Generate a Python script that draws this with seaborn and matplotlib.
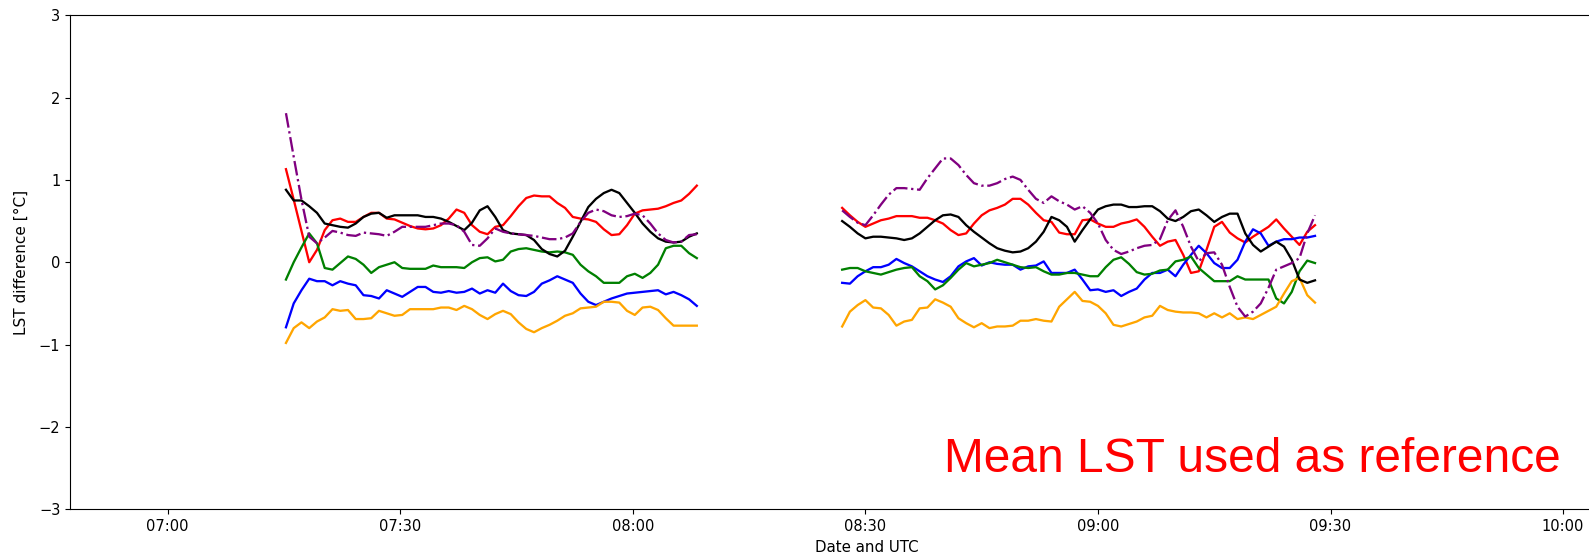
"""
LST difference time series, mean LST used as reference
"""
import pandas as pd
import numpy as np
import matplotlib
matplotlib.use('Agg')
import matplotlib.pyplot as plt
import matplotlib.dates as mdates
import seaborn as sns

# time axis of the two flight segments (1 minute steps)
seg1_start = '2023-06-15 07:15:15'
seg2_start = '2023-06-15 08:27:00'
seg1_len = 54
seg2_len = 62

# segment 1 values
red_1 = [1.13, 0.76, 0.38, 0.00, 0.15, 0.39, 0.51, 0.53, 0.49, 0.49, 0.55, 0.60, 0.60, 0.53, 0.52, 0.48, 0.44, 0.41, 0.40,
         0.41, 0.45, 0.53, 0.64, 0.60, 0.45, 0.37, 0.34, 0.43, 0.45, 0.56, 0.68, 0.78, 0.81, 0.80, 0.80, 0.72, 0.66,
         0.55, 0.53, 0.52, 0.49, 0.40, 0.33, 0.34, 0.45, 0.59, 0.63, 0.64, 0.65, 0.68, 0.72, 0.75, 0.83, 0.93]
black_1 = [0.88, 0.75, 0.75, 0.68, 0.60, 0.47, 0.45, 0.43, 0.42, 0.47, 0.55, 0.59, 0.60, 0.54, 0.57, 0.57, 0.57, 0.57, 0.55,
           0.55, 0.53, 0.49, 0.44, 0.39, 0.48, 0.63, 0.68, 0.55, 0.39, 0.35, 0.34, 0.33, 0.27, 0.16, 0.10, 0.07, 0.14,
           0.31, 0.49, 0.67, 0.77, 0.84, 0.88, 0.84, 0.72, 0.60, 0.47, 0.37, 0.29, 0.25, 0.24, 0.25, 0.31, 0.35]
purple_1 = [1.81, 1.28, 0.76, 0.31, 0.23, 0.30, 0.38, 0.36, 0.33, 0.32, 0.36, 0.35, 0.34, 0.32, 0.37, 0.43, 0.43, 0.43, 0.43,
            0.45, 0.47, 0.47, 0.45, 0.37, 0.21, 0.20, 0.29, 0.41, 0.37, 0.35, 0.34, 0.33, 0.32, 0.30, 0.28, 0.28, 0.30,
            0.35, 0.49, 0.60, 0.64, 0.62, 0.57, 0.55, 0.56, 0.59, 0.57, 0.47, 0.35, 0.27, 0.24, 0.25, 0.33, 0.34]
green_1 = [-0.21, 0.00, 0.18, 0.35, 0.23, -0.07, -0.09, -0.01, 0.07, 0.04, -0.03, -0.13, -0.06, -0.03, 0.00, -0.07, -0.08, -0.08, -0.08,
           -0.04, -0.06, -0.06, -0.06, -0.07, 0.00, 0.05, 0.06, 0.01, 0.03, 0.13, 0.16, 0.17, 0.15, 0.13, 0.12, 0.13, 0.12,
           0.09, -0.03, -0.11, -0.17, -0.25, -0.25, -0.25, -0.17, -0.14, -0.19, -0.13, -0.03, 0.17, 0.20, 0.20, 0.11, 0.05]
blue_1 = [-0.79, -0.50, -0.34, -0.20, -0.23, -0.23, -0.28, -0.23, -0.26, -0.28, -0.40, -0.41, -0.44, -0.34, -0.38, -0.42, -0.36, -0.30, -0.30,
          -0.36, -0.37, -0.35, -0.37, -0.36, -0.32, -0.38, -0.34, -0.37, -0.26, -0.35, -0.40, -0.41, -0.36, -0.26, -0.22, -0.17, -0.21,
          -0.25, -0.38, -0.48, -0.52, -0.48, -0.44, -0.41, -0.38, -0.37, -0.36, -0.35, -0.34, -0.39, -0.36, -0.40, -0.45, -0.53]
orange_1 = [-0.98, -0.80, -0.73, -0.80, -0.72, -0.67, -0.57, -0.59, -0.58, -0.69, -0.69, -0.68, -0.59, -0.62, -0.65, -0.64, -0.57, -0.57, -0.57,
            -0.57, -0.55, -0.55, -0.58, -0.53, -0.57, -0.64, -0.69, -0.63, -0.59, -0.63, -0.73, -0.81, -0.85, -0.80, -0.76, -0.71, -0.65,
            -0.62, -0.56, -0.55, -0.54, -0.48, -0.48, -0.49, -0.59, -0.64, -0.55, -0.54, -0.58, -0.68, -0.77, -0.77, -0.77, -0.77]

# segment 2 values
red_2 = [0.66, 0.57, 0.49, 0.43, 0.47, 0.51, 0.53, 0.56, 0.56, 0.56, 0.54, 0.54, 0.51, 0.47, 0.39, 0.33, 0.35, 0.47, 0.57, 0.63, 0.66,
         0.70, 0.77, 0.77, 0.70, 0.60, 0.51, 0.49, 0.36, 0.34, 0.34, 0.51, 0.52, 0.47, 0.43, 0.43, 0.47, 0.49, 0.52, 0.43, 0.31, 0.20,
         0.25, 0.27, 0.09, -0.13, -0.11, 0.15, 0.43, 0.49, 0.36, 0.29, 0.24, 0.31, 0.37, 0.43, 0.52, 0.41, 0.31, 0.21, 0.37, 0.45]
black_2 = [0.50, 0.43, 0.35, 0.29, 0.31, 0.31, 0.30, 0.29, 0.27, 0.29, 0.35, 0.43, 0.51, 0.57, 0.58, 0.55, 0.45, 0.37, 0.30, 0.23, 0.17,
           0.14, 0.12, 0.13, 0.17, 0.25, 0.37, 0.55, 0.51, 0.43, 0.25, 0.39, 0.52, 0.64, 0.68, 0.70, 0.70, 0.67, 0.67, 0.68, 0.68, 0.62,
           0.53, 0.50, 0.55, 0.62, 0.64, 0.57, 0.49, 0.55, 0.59, 0.59, 0.35, 0.21, 0.13, 0.19, 0.25, 0.19, 0.03, -0.21, -0.25, -0.22]
purple_2 = [0.63, 0.55, 0.48, 0.45, 0.57, 0.70, 0.82, 0.90, 0.90, 0.89, 0.88, 1.02, 1.14, 1.26, 1.26, 1.18, 1.06, 0.96, 0.93, 0.93, 0.96,
            1.01, 1.04, 1.00, 0.88, 0.77, 0.72, 0.80, 0.74, 0.70, 0.64, 0.68, 0.60, 0.47, 0.27, 0.15, 0.10, 0.13, 0.17, 0.20, 0.21, 0.28,
            0.51, 0.63, 0.43, 0.19, 0.01, 0.11, 0.12, -0.03, -0.30, -0.54, -0.66, -0.60, -0.50, -0.31, -0.09, -0.05, -0.01, 0.05, 0.35, 0.57]
green_2 = [-0.09, -0.07, -0.07, -0.11, -0.13, -0.15, -0.12, -0.09, -0.07, -0.06, -0.17, -0.23, -0.33, -0.28, -0.19, -0.09, -0.01, -0.05, -0.03, -0.01, 0.03,
           0.00, -0.03, -0.06, -0.07, -0.06, -0.11, -0.15, -0.15, -0.13, -0.13, -0.15, -0.17, -0.17, -0.06, 0.03, 0.06, -0.02, -0.12, -0.15, -0.14, -0.10,
           -0.09, 0.01, 0.03, 0.07, -0.07, -0.15, -0.23, -0.23, -0.23, -0.17, -0.21, -0.21, -0.21, -0.21, -0.44, -0.50, -0.36, -0.11, 0.02, -0.01]
blue_2 = [-0.25, -0.26, -0.17, -0.11, -0.06, -0.06, -0.03, 0.04, -0.01, -0.05, -0.11, -0.17, -0.21, -0.24, -0.17, -0.05, 0.01, 0.05, -0.04, 0.00, -0.02,
          -0.03, -0.03, -0.09, -0.05, -0.04, 0.01, -0.13, -0.13, -0.13, -0.09, -0.21, -0.34, -0.33, -0.36, -0.34, -0.41, -0.36, -0.32, -0.21, -0.13, -0.13,
          -0.09, -0.17, -0.03, 0.09, 0.20, 0.11, -0.01, -0.07, -0.07, 0.03, 0.25, 0.40, 0.35, 0.20, 0.25, 0.28, 0.28, 0.30, 0.30, 0.32]
orange_2 = [-0.78, -0.60, -0.52, -0.46, -0.55, -0.56, -0.64, -0.77, -0.72, -0.70, -0.56, -0.55, -0.45, -0.49, -0.54, -0.68, -0.74, -0.79, -0.74, -0.80, -0.78,
            -0.78, -0.77, -0.71, -0.71, -0.69, -0.71, -0.72, -0.54, -0.45, -0.36, -0.47, -0.48, -0.53, -0.62, -0.76, -0.78, -0.75, -0.72, -0.67, -0.65, -0.53,
            -0.58, -0.60, -0.61, -0.61, -0.62, -0.67, -0.62, -0.67, -0.62, -0.69, -0.67, -0.69, -0.64, -0.59, -0.54, -0.38, -0.23, -0.19, -0.40, -0.49]

series = [
    ('red', '-', red_1, red_2),
    ('blue', '-', blue_1, blue_2),
    ('green', '-', green_1, green_2),
    ('orange', '-', orange_1, orange_2),
    ('black', '-', black_1, black_2),
    ('purple', '-.', purple_1, purple_2),
]

t1 = pd.date_range(seg1_start, periods=seg1_len, freq='min')
t2 = pd.date_range(seg2_start, periods=seg2_len, freq='min')

fig = plt.figure(figsize=(15.89, 5.56), dpi=100)
ax = fig.add_axes([0.0441, 0.084, 1.003, 0.8887])

for color, ls, v1, v2 in series:
    sns.lineplot(x=t1, y=v1, color=color, linestyle=ls, linewidth=1.65, ax=ax)
    sns.lineplot(x=t2, y=v2, color=color, linestyle=ls, linewidth=1.65, ax=ax)

ax.set_ylim(-3, 3)
ax.set_xlim(pd.Timestamp('2023-06-15 06:47:24'), pd.Timestamp('2023-06-15 10:13:00'))
ax.xaxis.set_major_locator(mdates.MinuteLocator(byminute=[0, 30]))
ax.xaxis.set_major_formatter(mdates.DateFormatter('%H:%M'))
ax.tick_params(labelsize=10.5)
ax.set_xlabel('Date and UTC', fontsize=10.8)
ax.set_ylabel('LST difference [°C]', fontsize=11, labelpad=7)

fig.text(0.9824, 0.1516, 'Mean LST used as reference', color='red', fontsize=34.5,
         family='Liberation Sans', ha='right', va='baseline')

fig.savefig('out.png', dpi=100)
plt.close()
